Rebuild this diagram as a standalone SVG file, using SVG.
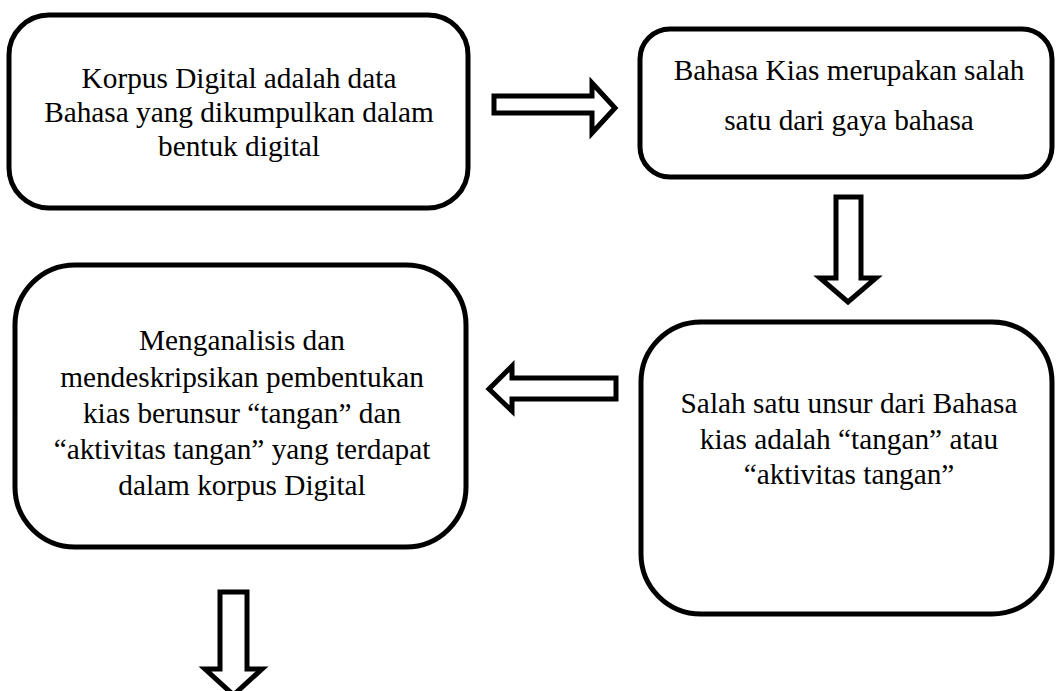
<svg xmlns="http://www.w3.org/2000/svg" width="1056" height="691" viewBox="0 0 1056 691">
<style>
.box{fill:#fff;stroke:#000;stroke-width:5}
.arr{fill:#fff;stroke:#000;stroke-width:5;stroke-linejoin:miter}
.t{font-family:'Liberation Serif','Times New Roman',Times,serif;font-size:29.3px;fill:#000;text-anchor:middle}
</style>
<rect width="1056" height="691" fill="#fff"/>
<g id="node1">
<rect class="box" x="9" y="15" width="459" height="193" rx="40"/>
<text class="t" font-family="Liberation Serif, serif" x="239" y="88">Korpus Digital adalah data</text>
<text class="t" font-family="Liberation Serif, serif" x="239" y="122">Bahasa yang dikumpulkan dalam</text>
<text class="t" font-family="Liberation Serif, serif" x="239" y="156">bentuk digital</text>
</g>
<g id="node2">
<rect class="box" x="640" y="29" width="412" height="148" rx="30"/>
<text class="t" x="849" y="80">Bahasa Kias merupakan salah</text>
<text class="t" x="849" y="130">satu dari gaya bahasa</text>
</g>
<g id="node3">
<rect class="box" x="15" y="265" width="451" height="282" rx="60"/>
<text class="t" x="242" y="350">Menganalisis dan</text>
<text class="t" x="242" y="387">mendeskripsikan pembentukan</text>
<text class="t" x="242" y="423">kias berunsur “tangan” dan</text>
<text class="t" x="242" y="459">“aktivitas tangan” yang terdapat</text>
<text class="t" x="242" y="495">dalam korpus Digital</text>
</g>
<g id="node4">
<rect class="box" x="641" y="322" width="411" height="292" rx="60"/>
<text class="t" x="849" y="413">Salah satu unsur dari Bahasa</text>
<text class="t" x="849" y="449">kias adalah “tangan” atau</text>
<text class="t" x="849" y="484">“aktivitas tangan”</text>
</g>
<g id="connectors">
<polygon class="arr" points="494,96 592,96 592,83 615,108 592,133 592,113 494,113"/>
<polygon class="arr" points="836,197 861,197 861,278 876,278 848,302 820,278 836,278"/>
<polygon class="arr" points="616,378 512,378 512,366 489,389 512,411 512,399 616,399"/>
<polygon class="arr" points="220,592 247,592 247,669 262,669 233.5,695 205,669 220,669"/>
</g>
</svg>
